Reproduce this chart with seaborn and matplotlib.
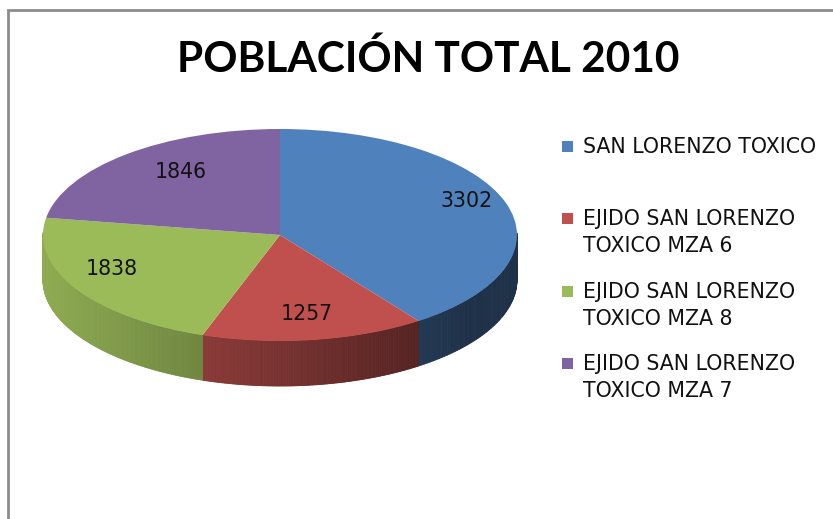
import numpy as np
import matplotlib
matplotlib.use("Agg")
import matplotlib.pyplot as plt
import seaborn as sns
from matplotlib.collections import PolyCollection
from matplotlib.patches import Rectangle
from matplotlib.colors import to_rgb

# -----------------------------
# DATA
# -----------------------------
title = "POBLACIÓN TOTAL 2010"
labels = [
    "SAN LORENZO TOXICO",
    "EJIDO SAN LORENZO\nTOXICO MZA 6",
    "EJIDO SAN LORENZO\nTOXICO MZA 8",
    "EJIDO SAN LORENZO\nTOXICO MZA 7",
]
values = [3302, 1257, 1838, 1846]
colors = ["#4F81BD", "#C0504D", "#9BBB59", "#8064A2"]

total = sum(values)

# -----------------------------
# FIGURE
# -----------------------------
sns.set_theme(style="white")
plt.rcParams["font.family"] = ["DejaVu Sans"]

W, H = 833, 519
fig = plt.figure(figsize=(W / 100, H / 100), dpi=100)
fig.patch.set_facecolor("white")

# pie box in pixels: centre (280, 235), radii 237 x 106
cx, cy, rx, ry = 280, 235, 237, 106
depth = 45 / ry
ax = fig.add_axes([(cx - rx) / W, 1 - (cy + ry) / H, 2 * rx / W, 2 * ry / H])

wedges, _, autotexts = ax.pie(
    values,
    colors=colors,
    startangle=90,
    counterclock=False,
    autopct=lambda p: f"{round(p * total / 100)}",
    pctdistance=0.78,
    wedgeprops=dict(linewidth=0, zorder=3),
    textprops=dict(fontsize=14.8, color="#111111", zorder=5),
)
ax.set_aspect("auto")
ax.set_xlim(-1, 1)
ax.set_ylim(-1, 1)
ax.axis("off")

# nudge the value labels (pixels) to where Excel puts them in 3D
nudges = [(11, -9), (0, -3), (-9, -8), (20, 0)]
for t, (dx, dy) in zip(autotexts, nudges):
    x, y = t.get_position()
    t.set_position((x + dx / rx, y - dy / ry))

# side wall of the 3D pie, shaded by angle
polys, fills = [], []
for w, c in zip(wedges, colors):
    base = np.array(to_rgb(c))
    t = np.linspace(w.theta1, w.theta2, 160)
    for a, b in zip(t[:-1], t[1:]):
        m = np.deg2rad((a + b) / 2)
        if np.sin(m) > 0.02:
            continue
        ra, rb = np.deg2rad(a), np.deg2rad(b)
        polys.append([
            (np.cos(ra), np.sin(ra)),
            (np.cos(rb), np.sin(rb)),
            (np.cos(rb), np.sin(rb) - depth),
            (np.cos(ra), np.sin(ra) - depth),
        ])
        f = np.clip(0.62 - 0.30 * np.cos(m), 0.38, 1.0)
        fills.append(base * f)

side = PolyCollection(polys, facecolors=fills, edgecolors=fills,
                      linewidths=0.6, zorder=1, clip_on=False)
ax.add_collection(side)
for w in wedges:
    w.set_clip_on(False)

# -----------------------------
# TITLE, LEGEND, BORDER
# -----------------------------
fig.text(428 / W, 1 - 72 / H, title, ha="center", va="baseline",
         fontsize=30.5, fontweight="bold", family=["Lato", "DejaVu Sans"],
         color="black")

entry_base = [153, 225, 298, 370]
for lab, c, yb in zip(labels, colors, entry_base):
    fig.add_artist(Rectangle((562 / W, 1 - (yb - 1) / H), 11 / W, 11 / H,
                             transform=fig.transFigure, facecolor=c,
                             edgecolor="none"))
    for k, line in enumerate(lab.split("\n")):
        fig.text(583 / W, 1 - (yb + 27 * k) / H, line, ha="left",
                 va="baseline", fontsize=14.8, color="#111111")

fig.add_artist(Rectangle((8 / W, -0.1), 1.1, 1.1 - 10 / H,
                         transform=fig.transFigure, fill=False,
                         edgecolor="#8c8c8c", linewidth=2))

plt.savefig("out.png", dpi=100)
plt.close()
